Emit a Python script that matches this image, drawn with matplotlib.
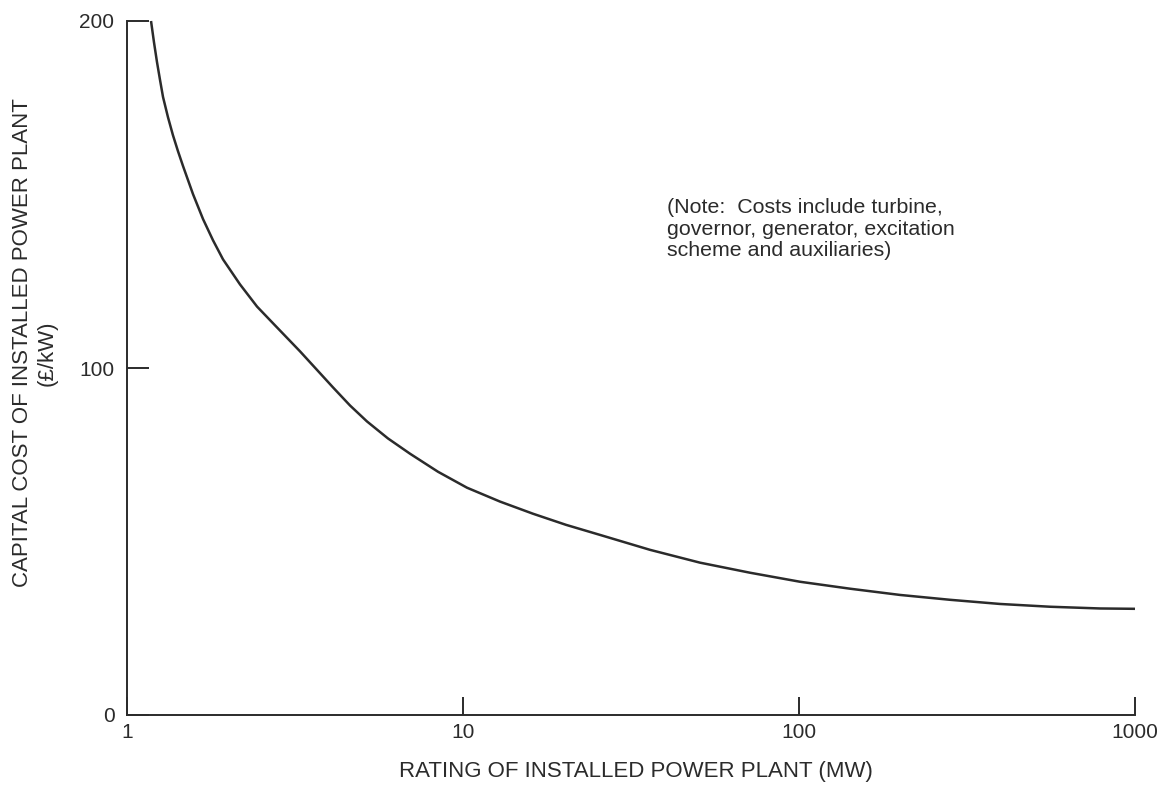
import matplotlib
matplotlib.use("Agg")
import matplotlib.pyplot as plt

# Data
rating_mw = [1.179, 1.203, 1.228, 1.254, 1.280, 1.324, 1.370, 1.418, 1.468,
             1.572, 1.684, 1.803, 1.931, 2.169, 2.438, 2.757, 3.273, 4.104,
             4.610, 5.179, 5.980, 6.955, 8.425, 10.28, 12.89, 16.16, 20.26,
             25.57, 36.02, 50.75, 71.5, 100.7, 141.8, 199.8, 281.5, 396.5,
             558.5, 786.8, 1000]
cost_per_kw = [200.0, 193.9, 188.2, 183.0, 178.1, 172.3, 167.1, 162.5, 158.2,
               150.1, 142.9, 136.8, 131.3, 124.1, 117.7, 112.3, 104.8, 94.4,
               89.2, 84.6, 79.7, 75.3, 70.1, 65.5, 61.5, 58.0, 54.8,
               51.9, 47.6, 43.9, 41.0, 38.4, 36.4, 34.6, 33.2, 32.0,
               31.2, 30.7, 30.6]
x_ticks = [1, 10, 100, 1000]
x_tick_labels = ["1", "10", "100", "1000"]
y_ticks = [0, 100, 200]
y_tick_labels = ["0", "100", "200"]
note_text = ("(Note:  Costs include turbine,\n"
             "governor, generator, excitation\n"
             "scheme and auxiliaries)")

plt.rcParams['font.family'] = ['Liberation Sans', 'DejaVu Sans']
ink = "#2b2b2b"

fig = plt.figure(figsize=(11.68, 7.89), dpi=100)
ax = fig.add_axes([127/1168, 1 - 715/789, (1135-127)/1168, (715-21)/789])

ax.plot(rating_mw, cost_per_kw, color=ink, lw=1.8, solid_capstyle='butt',
        clip_on=False)

ax.set_xscale('log')
ax.set_xlim(1, 1000)
ax.set_ylim(0, 200)
ax.set_xticks(x_ticks)
ax.set_xticklabels(x_tick_labels)
ax.xaxis.set_minor_locator(matplotlib.ticker.NullLocator())
ax.set_yticks(y_ticks)
ax.set_yticklabels(y_tick_labels)

for s in ['top', 'right']:
    ax.spines[s].set_visible(False)
for s in ['left', 'bottom']:
    ax.spines[s].set_color(ink)
    ax.spines[s].set_linewidth(1.4)

ax.tick_params(axis='x', direction='in', length=13, width=1.4, color=ink,
               labelsize=15, labelcolor=ink, pad=6)
ax.tick_params(axis='y', direction='in', length=16, width=1.4, color=ink,
               labelsize=15, labelcolor=ink, pad=9)

fig.text(636/1168, 1 - 771/789, "RATING OF INSTALLED POWER PLANT (MW)",
         ha='center', va='center', fontsize=16, color=ink)
fig.text(23/1168, 1 - 343/789, "CAPITAL COST OF INSTALLED POWER PLANT",
         ha='center', va='center', rotation=90, fontsize=16, color=ink)
fig.text(47/1168, 1 - 353/789, "(£/kW)",
         ha='center', va='center', rotation=90, fontsize=16, color=ink)

fig.text(667/1168, 1 - 229/789, note_text, ha='left', va='center',
         fontsize=15.4, color=ink, linespacing=1.17)

fig.savefig("out.png", dpi=100, facecolor='white')
